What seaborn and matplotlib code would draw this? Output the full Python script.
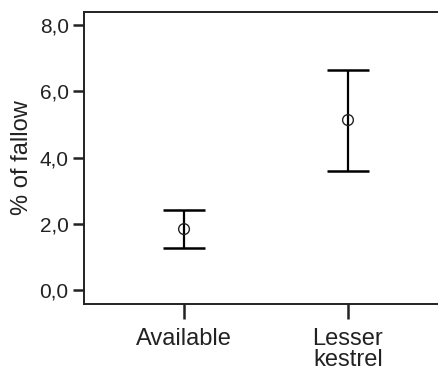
import matplotlib
matplotlib.use("Agg")
import matplotlib.pyplot as plt
import matplotlib.ticker as mticker
import seaborn as sns
import pandas as pd

# Mean share of fallow with 95% confidence limits
categories = ["Available", "Lesser\nkestrel"]
means = [1.84, 5.13]
ci_low = [1.27, 3.59]
ci_high = [2.42, 6.64]
yticks = [0, 2, 4, 6, 8]

df = pd.DataFrame({"group": categories, "mean": means, "lo": ci_low, "hi": ci_high})
df["pos"] = range(len(df))

sns.set_theme(style="white")
plt.rcParams["font.family"] = ["Liberation Sans", "DejaVu Sans"]

fig = plt.figure(figsize=(4.39, 3.74), dpi=100)
ax = fig.add_axes([84 / 439, 70 / 374, 364 / 439, 292 / 374])

ax.errorbar(df["pos"], df["mean"],
            yerr=[df["mean"] - df["lo"], df["hi"] - df["mean"]],
            fmt="none", ecolor="black", elinewidth=1.6, capsize=15, capthick=1.8)
sns.scatterplot(data=df, x="pos", y="mean", ax=ax, marker="o", s=60,
                facecolor="none", edgecolor="#222222", linewidth=1.0, zorder=3)

ax.set_xlim(-0.61, 1.61)
ax.set_ylim(-0.42, 8.39)
ax.set_xticks(df["pos"])
ax.set_xticklabels(categories, fontsize=17, linespacing=0.95)
ax.set_yticks(yticks)
ax.yaxis.set_major_formatter(mticker.FuncFormatter(lambda v, p: f"{v:.1f}".replace(".", ",")))
ax.tick_params(axis="y", left=True, length=8, width=1.8, labelsize=15, pad=3,
               color="#222222", labelcolor="#222222")
ax.tick_params(axis="x", bottom=True, length=11, width=1.8, labelsize=17, pad=6,
               color="#222222", labelcolor="#222222")
ax.set_xlabel("")
ax.set_ylabel("% of fallow", fontsize=17, color="#222222", labelpad=5)

for side in ["left", "bottom", "top", "right"]:
    ax.spines[side].set_visible(True)
    ax.spines[side].set_color("#222222")
    ax.spines[side].set_linewidth(1.4)

fig.savefig("out.png", dpi=100)
